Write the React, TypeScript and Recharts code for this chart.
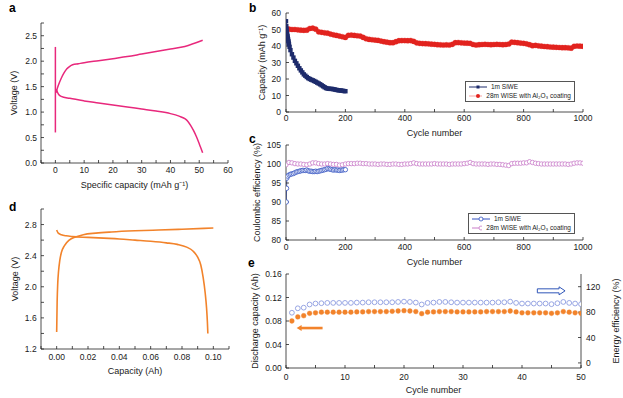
import React from 'react';
import { LineChart, Line, XAxis, YAxis, Legend, ReferenceLine } from 'recharts';

const FONT = '"Liberation Sans", Arial, Helvetica, sans-serif';
const INK = '#1a1a1a';
const AXIS = '#222';

const PINK = '#e8287c';
const NAVY = '#1d2b6b';
const RED = '#e2231e';
const RED_LINE = '#f6a3a2';
const BLUE_OPEN = '#3453c2';
const ORCHID = '#c97cc9';
const ORANGE = '#f2832b';
const PERIWINKLE = '#8d9ce0';

// ---- panel a: voltage profile, specific capacity
const aVertCap = [0, 0];
const aVertV = [0.6, 2.28];
const aChargeCap = [0.2, 1, 2, 3, 4, 5, 6, 8, 10, 15, 20, 25, 30, 35, 40, 45, 51.2];
const aChargeV = [1.38, 1.52, 1.66, 1.77, 1.85, 1.9, 1.93, 1.95, 1.97, 2.01, 2.05, 2.09, 2.14, 2.19, 2.24, 2.29, 2.41];
const aDischargeCap = [0.3, 1, 2, 5, 10, 15, 20, 25, 30, 35, 40, 43, 45, 46, 47, 48, 49, 50, 51.2];
const aDischargeV = [1.45, 1.36, 1.31, 1.27, 1.22, 1.18, 1.14, 1.1, 1.06, 1.02, 0.97, 0.92, 0.87, 0.82, 0.74, 0.64, 0.52, 0.38, 0.2];
const aXTicks = [0, 10, 20, 30, 40, 50, 60];
const aXMinor = [-5, 5, 15, 25, 35, 45, 55];
const aYTicks = [0, 0.5, 1, 1.5, 2, 2.5];
const aYMinor = [0.25, 0.75, 1.25, 1.75, 2.25, 2.75];

// ---- panel b: capacity vs cycle
const bSiweCycles = [0, 1, 2, 3, 4, 5, 6, 7, 8, 9, 10, 12, 15, 20, 25, 30, 35, 40, 45, 50, 55, 60, 65, 70, 75, 80, 85, 90, 95,
  100, 105, 110, 115, 120, 125, 130, 135, 140, 145, 150, 155, 160, 165, 170, 175, 180, 185, 190, 195, 200];
const bSiweCap = [55, 52, 50, 48.5, 47, 46, 45, 44, 43, 42, 41, 39.5, 37.5, 35, 33, 31, 29.5, 28, 26.5, 25.2, 24, 22.8, 22,
  21.2, 20.5, 20, 19.6, 19.2, 18.8, 18.3, 17.8, 17.3, 16.8, 16.2, 15.6, 15, 14.5, 14.2, 14.1, 14, 14, 13.8, 13.6, 13.4,
  13.2, 13.1, 13, 12.9, 12.7, 12.6];
const bWiseCap = [51, 50.2, 50, 50, 49.8, 49.6, 49.5, 49.6, 50.6, 50.8, 50.2, 48.6, 48.3, 48, 47.8, 47.2, 46.8, 46.4, 46, 45.6,
  45.2, 46.5, 46.6, 46.4, 46.2, 46, 45.2, 44.4, 44, 43.8, 43.6, 43.4, 43, 42.6, 42.3, 42, 42, 42.6, 43.2, 43.3,
  43.3, 43.2, 43.3, 42.8, 41.9, 41.6, 41.5, 41.4, 41.3, 41.1, 41, 40.8, 40.7, 40.6, 40.7, 40.6, 41, 42, 42.1, 41.9,
  41.8, 41.7, 41.6, 40.9, 40.6, 40.8, 40.9, 41, 40.9, 40.8, 40.9, 41, 40.9, 40.8, 40.9, 41.2, 42.3, 42.2, 42, 41.8,
  41.6, 41.3, 40.8, 40.2, 40.4, 40.1, 39.9, 39.7, 39.6, 39.4, 39.3, 39.2, 39.1, 39, 39, 38.9, 38.7, 39.8, 40, 39.9, 39.8];
const bXTicks = [0, 200, 400, 600, 800, 1000];
const bXMinor = [100, 300, 500, 700, 900];
const bYTicks = [0, 10, 20, 30, 40, 50, 60];

// ---- panel c: coulombic efficiency
const cSiweCycles = [1, 2, 3, 5, 10, 15, 20, 25, 30, 35, 40, 45, 50, 55, 60, 65, 70, 75, 80, 85, 90, 95, 100,
  105, 110, 115, 120, 125, 130, 135, 140, 145, 150, 155, 160, 165, 170, 175, 180, 185, 190, 195, 200];
const cSiweCE = [90, 93.6, 96.3, 96.8, 97.1, 97.3, 97.4, 97.5, 97.7, 97.9, 98, 98.1, 98.2, 98.3, 98.3, 98.3, 98.4, 98.2, 98.1, 98.1, 98,
  98, 98.1, 98, 98.1, 98.2, 98.3, 98.4, 98.5, 98.6, 98.8, 98.7, 98.6, 98.5, 98.4, 98.5, 98.4, 98.4, 98.3, 98.4, 98.4, 98.5, 98.5];
const cWiseCE = [99.8, 100.4, 100.3, 100.1, 100, 100, 99.9, 99.8, 100, 100.3, 100.3, 100.1, 100, 100, 100.1, 100, 99.9, 99.9, 99.7, 99.8,
  100, 100.1, 100.1, 100.1, 100.2, 100.2, 100.1, 100.1, 100, 100, 100, 99.9, 100, 100, 99.9, 99.9, 100, 100, 99.9, 99.9,
  100, 100, 100.1, 100.3, 100.1, 100, 100, 100, 100, 100, 100.1, 100, 100, 100, 100, 99.9, 100, 100, 100, 100,
  100.1, 100.2, 100.4, 100.1, 100, 100, 100, 100, 99.9, 100, 100, 99.9, 99.9, 99.8, 99.7, 99.6, 100.1, 100.2, 100.2, 100.2,
  100.3, 100.3, 100.6, 100.4, 100.2, 100.1, 100, 100, 100, 100, 100, 100, 100, 100, 100, 99.9, 100, 100.2, 100.3, 100.3, 100.2];
const cYTicks = [80, 85, 90, 95, 100, 105];

// ---- panel d: full cell voltage profile
const dChargeCap = [0, 0.0003, 0.0007, 0.0012, 0.002, 0.003, 0.005, 0.008, 0.012, 0.017, 0.025, 0.035, 0.05, 0.065, 0.08, 0.1];
const dChargeV = [1.42, 1.8, 2.05, 2.2, 2.34, 2.44, 2.53, 2.6, 2.64, 2.67, 2.69, 2.705, 2.72, 2.73, 2.74, 2.755];
const dDischargeCap = [0, 0.001, 0.003, 0.006, 0.01, 0.02, 0.03, 0.04, 0.05, 0.06, 0.07, 0.077, 0.083, 0.087, 0.09, 0.092,
  0.0935, 0.0948, 0.0957, 0.0962, 0.0965];
const dDischargeV = [2.73, 2.69, 2.67, 2.655, 2.645, 2.635, 2.625, 2.615, 2.6, 2.585, 2.565, 2.545, 2.51, 2.46, 2.38, 2.28,
  2.12, 1.92, 1.72, 1.55, 1.4];
const dXTicks = [0, 0.02, 0.04, 0.06, 0.08, 0.1];
const dXMinor = [-0.01, 0.01, 0.03, 0.05, 0.07, 0.09, 0.11];
const dYTicks = [1.2, 1.6, 2.0, 2.4, 2.8];
const dYMinor = [1.4, 1.8, 2.2, 2.6, 3.0];

// ---- panel e: discharge capacity + energy efficiency, cycles 1..50
const eCapacity = [0.08, 0.087, 0.089, 0.093, 0.094, 0.095, 0.095, 0.095, 0.095, 0.095, 0.095, 0.0955, 0.0955, 0.096, 0.096,
  0.096, 0.096, 0.0965, 0.097, 0.0975, 0.097, 0.096, 0.0925, 0.095, 0.0955, 0.096, 0.096, 0.096, 0.0955, 0.0955,
  0.0955, 0.0955, 0.0955, 0.096, 0.096, 0.096, 0.096, 0.097, 0.0955, 0.094, 0.094, 0.094, 0.094, 0.094, 0.093,
  0.094, 0.096, 0.095, 0.094, 0.093];
const eEfficiency = [79, 86, 87, 92, 93.5, 94, 94.5, 94.5, 94.5, 94.5, 94.5, 95, 95, 95.5, 95.5, 95.5, 95.5, 95.5, 96, 96.5,
  96, 95, 92, 94.5, 95, 96, 96, 95.5, 95, 95, 95, 95, 95, 95, 95, 95.5, 95.5, 96.5, 94.5, 93.5,
  93.5, 93.5, 93.5, 93.5, 92.5, 94, 96, 94.5, 93.5, 92.5];
const eXTicks = [0, 10, 20, 30, 40, 50];
const eXMinor = [5, 15, 25, 35, 45];
const eLeftTicks = [0, 0.04, 0.08, 0.12, 0.16];
const eRightTicks = [0, 40, 80, 120];

const pts = (xs: number[], ys: number[]) => xs.map((x, i) => ({ x, y: ys[i] }));
const withMinor = (major: number[], minor: number[]) => [...major, ...minor].sort((p, q) => p - q);
// label only the major ticks
const fmt = (major: number[], digits: number) => (v: number) =>
  major.some((m) => Math.abs(m - v) < 1e-9) ? v.toFixed(digits) : '';

const bSiwe = pts(bSiweCycles, bSiweCap);
const bWise = bWiseCap.map((y, i) => ({ x: i * 10, y }));
const cSiwe = pts(cSiweCycles, cSiweCE);
const cWise = cWiseCE.map((y, i) => ({ x: i * 10, y }));
const eData = eCapacity.map((cap, i) => ({ cycle: i + 1, cap, eff: eEfficiency[i] }));

const tickFont = { fontSize: 8.5, fill: INK, fontFamily: FONT };
const axLine = { stroke: AXIS, strokeWidth: 0.8 };
const labelStyle = { fontSize: 9, fill: INK, fontFamily: FONT, textAnchor: 'middle' as const };

// inward tick marks on top / right edges, no labels
function mirrorAxes(xDomain: number[], xTicks: number[], yDomain: number[], yTicks: number[], withRight = true) {
  const out = [
    <XAxis key="mt" xAxisId="top" orientation="top" type="number" domain={xDomain} ticks={xTicks} height={0}
      allowDataOverflow interval={0} tickSize={-3} tickFormatter={() => ''} axisLine={axLine} tickLine={axLine} />,
  ];
  if (withRight) {
    out.push(
      <YAxis key="mr" yAxisId="r" orientation="right" type="number" domain={yDomain} ticks={yTicks} width={0}
        allowDataOverflow interval={0} tickSize={-3} tickFormatter={() => ''} axisLine={axLine} tickLine={axLine} />
    );
  }
  return out;
}

type LegendRow = { name: string; line: string; marker: 'square' | 'dot' | 'ring'; color: string };

const bLegend: LegendRow[] = [
  { name: '1m SiWE', line: NAVY, marker: 'square', color: NAVY },
  { name: '28m WISE with Al₂O₃ coating', line: RED_LINE, marker: 'dot', color: RED },
];
const cLegend: LegendRow[] = [
  { name: '1m SiWE', line: BLUE_OPEN, marker: 'ring', color: BLUE_OPEN },
  { name: '28m WISE with Al₂O₃ coating', line: ORCHID, marker: 'ring', color: ORCHID },
];

function LegendBox({ rows }: { rows: LegendRow[] }) {
  return (
    <div style={{ border: '0.7px solid #555', background: '#fff', padding: '1px 3px', fontSize: 6.5,
      lineHeight: '8.5px', color: INK, fontFamily: FONT }}>
      {rows.map((r) => (
        <div key={r.name} style={{ display: 'flex', alignItems: 'center', whiteSpace: 'nowrap' }}>
          <svg width={18} height={6} style={{ marginRight: 4 }}>
            <line x1={0} y1={3} x2={18} y2={3} stroke={r.line} strokeWidth={1} />
            {r.marker === 'square' && <rect x={7.5} y={1.5} width={3} height={3} fill={r.color} />}
            {r.marker === 'dot' && <circle cx={9} cy={3} r={2} fill={r.color} />}
            {r.marker === 'ring' && <circle cx={9} cy={3} r={2} fill="#fff" stroke={r.color} strokeWidth={0.8} />}
          </svg>
          <span>{r.name}</span>
        </div>
      ))}
    </div>
  );
}

const squareDot = (color: string, s: number) => (p: any) => (
  <rect key={`sq-${p.index}`} x={p.cx - s / 2} y={p.cy - s / 2} width={s} height={s} fill={color} />
);

function PanelA() {
  const xt = withMinor(aXTicks, aXMinor);
  const yt = withMinor(aYTicks, aYMinor);
  return (
    <div style={{ position: 'absolute', left: 0, top: 0 }}>
      <LineChart width={240} height={200} margin={{ top: 23, right: 12, bottom: 0, left: 0 }}>
        <XAxis type="number" dataKey="x" domain={[-5, 60]} ticks={xt} height={37} interval={0} allowDataOverflow
          tickSize={-3} tickMargin={7.3} tick={tickFont} axisLine={axLine} tickLine={axLine}
          tickFormatter={fmt(aXTicks, 0)}
          label={{ value: 'Specific capacity (mAh g⁻¹)', position: 'insideBottom', offset: 12, style: labelStyle }} />
        <YAxis type="number" domain={[0, 2.75]} ticks={yt} width={41} interval={0} allowDataOverflow
          tickSize={-3} tickMargin={7} tick={tickFont} axisLine={axLine} tickLine={axLine}
          tickFormatter={fmt(aYTicks, 1)}
          label={{ value: 'Voltage (V)', angle: -90, position: 'insideLeft', offset: 13.5, style: labelStyle }} />
        {mirrorAxes([-5, 60], xt, [0, 2.75], yt)}
        <Line data={pts(aVertCap, aVertV)} dataKey="y" type="linear" stroke={PINK} strokeWidth={1.5} dot={false} isAnimationActive={false} />
        <Line data={pts(aChargeCap, aChargeV)} dataKey="y" type="monotone" stroke={PINK} strokeWidth={1.5} dot={false} isAnimationActive={false} />
        <Line data={pts(aDischargeCap, aDischargeV)} dataKey="y" type="monotone" stroke={PINK} strokeWidth={1.5} dot={false} isAnimationActive={false} />
      </LineChart>
    </div>
  );
}

function PanelB() {
  const xt = withMinor(bXTicks, bXMinor);
  return (
    <div style={{ position: 'absolute', left: 250, top: 0 }}>
      <LineChart width={373} height={140} margin={{ top: 13, right: 40, bottom: 0, left: 0 }}>
        <XAxis type="number" dataKey="x" domain={[0, 1000]} ticks={xt} height={28} interval={0} allowDataOverflow
          tickSize={-3} tickMargin={5.7} tick={tickFont} axisLine={axLine} tickLine={axLine}
          tickFormatter={fmt(bXTicks, 0)}
          label={{ value: 'Cycle number', position: 'insideBottom', offset: 4, style: labelStyle }} />
        <YAxis type="number" domain={[0, 60]} ticks={bYTicks} width={36} interval={0} allowDataOverflow
          tickSize={-3} tickMargin={8} tick={tickFont} axisLine={axLine} tickLine={axLine}
          label={{ value: 'Capacity (mAh g⁻¹)', angle: -90, position: 'insideLeft', offset: 11.7, style: labelStyle }} />
        {mirrorAxes([0, 1000], xt, [0, 60], bYTicks)}
        <Line data={bWise} dataKey="y" name="28m WISE with Al₂O₃ coating" stroke={RED_LINE} strokeWidth={1}
          dot={{ r: 2.6, fill: RED, stroke: RED, strokeWidth: 0.3 }} isAnimationActive={false} />
        <Line data={bSiwe} dataKey="y" name="1m SiWE" stroke={NAVY} strokeWidth={1.2}
          dot={squareDot(NAVY, 4.4)} isAnimationActive={false} />
        <Legend layout="vertical" align="center" verticalAlign="middle"
          wrapperStyle={{ left: 215, top: 81, width: 110 }} content={() => <LegendBox rows={bLegend} />} />
      </LineChart>
    </div>
  );
}

function PanelC() {
  const xt = withMinor(bXTicks, bXMinor);
  return (
    <div style={{ position: 'absolute', left: 250, top: 140 }}>
      <LineChart width={373} height={128} margin={{ top: 5, right: 40, bottom: 0, left: 0 }}>
        <XAxis type="number" dataKey="x" domain={[0, 1000]} ticks={xt} height={28} interval={0} allowDataOverflow
          tickSize={-3} tickMargin={7.3} tick={tickFont} axisLine={axLine} tickLine={axLine}
          tickFormatter={fmt(bXTicks, 0)}
          label={{ value: 'Cycle number', position: 'insideBottom', offset: 3, style: labelStyle }} />
        <YAxis type="number" domain={[80, 105]} ticks={cYTicks} width={36} interval={0} allowDataOverflow
          tickSize={-3} tickMargin={8} tick={tickFont} axisLine={axLine} tickLine={axLine}
          label={{ value: 'Coulombic efficiency (%)', angle: -90, position: 'insideLeft', offset: 6.7, style: labelStyle }} />
        {mirrorAxes([0, 1000], xt, [80, 105], cYTicks)}
        <Line data={cWise} dataKey="y" name="28m WISE with Al₂O₃ coating" stroke={ORCHID} strokeWidth={0.8}
          dot={{ r: 2.2, fill: '#fff', stroke: ORCHID, strokeWidth: 0.8 }} isAnimationActive={false} />
        <Line data={cSiwe} dataKey="y" name="1m SiWE" stroke={BLUE_OPEN} strokeWidth={0.8}
          dot={{ r: 2.2, fill: '#fff', stroke: BLUE_OPEN, strokeWidth: 0.8 }} isAnimationActive={false} />
        <Legend layout="vertical" align="center" verticalAlign="middle"
          wrapperStyle={{ left: 218, top: 73, width: 107 }} content={() => <LegendBox rows={cLegend} />} />
      </LineChart>
    </div>
  );
}

function PanelD() {
  const xt = withMinor(dXTicks, dXMinor);
  const yt = withMinor(dYTicks, dYMinor);
  return (
    <div style={{ position: 'absolute', left: 0, top: 200 }}>
      <LineChart width={240} height={198} margin={{ top: 9, right: 11, bottom: 0, left: 0 }}>
        <XAxis type="number" dataKey="x" domain={[-0.01, 0.11]} ticks={xt} height={49} interval={0} allowDataOverflow
          tickSize={-3} tickMargin={8} tick={tickFont} axisLine={axLine} tickLine={axLine}
          tickFormatter={fmt(dXTicks, 2)}
          label={{ value: 'Capacity (Ah)', position: 'insideBottom', offset: 24.5, style: labelStyle }} />
        <YAxis type="number" domain={[1.2, 3.0]} ticks={yt} width={41} interval={0} allowDataOverflow
          tickSize={-3} tickMargin={7.3} tick={tickFont} axisLine={axLine} tickLine={axLine}
          tickFormatter={fmt(dYTicks, 1)}
          label={{ value: 'Voltage (V)', angle: -90, position: 'insideLeft', offset: 15, style: labelStyle }} />
        {mirrorAxes([-0.01, 0.11], xt, [1.2, 3.0], yt)}
        <Line data={pts(dChargeCap, dChargeV)} dataKey="y" type="monotone" stroke={ORANGE} strokeWidth={1.6} dot={false} isAnimationActive={false} />
        <Line data={pts(dDischargeCap, dDischargeV)} dataKey="y" type="monotone" stroke={ORANGE} strokeWidth={1.6} dot={false} isAnimationActive={false} />
      </LineChart>
    </div>
  );
}

const hollowArrow = (p: any) => {
  const { x1, y1, x2 } = p;
  const hx = x2 - 6;
  const d = `M${x1},${y1 - 2} L${hx},${y1 - 2} L${hx},${y1 - 4} L${x2},${y1} L${hx},${y1 + 4} L${hx},${y1 + 2} L${x1},${y1 + 2} Z`;
  return <path d={d} fill="#fff" stroke="#2f56b8" strokeWidth={1} />;
};

const solidArrowLeft = (p: any) => {
  const { x1, y1, x2 } = p;
  const d = `M${x2},${y1} L${x2 + 5},${y1 - 3} L${x2 + 5},${y1 + 3} Z`;
  return (
    <g>
      <line x1={x1} y1={y1} x2={x2 + 4} y2={y1} stroke={ORANGE} strokeWidth={2.6} />
      <path d={d} fill={ORANGE} />
    </g>
  );
};

function PanelE() {
  const xt = withMinor(eXTicks, eXMinor);
  return (
    <div style={{ position: 'absolute', left: 250, top: 268 }}>
      <LineChart width={373} height={130} data={eData} margin={{ top: 6, right: 0, bottom: 0, left: 0 }}>
        <XAxis type="number" dataKey="cycle" domain={[0, 50]} ticks={xt} height={30} interval={0} allowDataOverflow
          tickSize={-3} tickMargin={9.3} tick={tickFont} axisLine={axLine} tickLine={axLine}
          tickFormatter={fmt(eXTicks, 0)}
          label={{ value: 'Cycle number', position: 'insideBottom', offset: 5.5, style: labelStyle }} />
        <YAxis yAxisId="left" type="number" domain={[0, 0.16]} ticks={eLeftTicks} width={36} interval={0} allowDataOverflow
          tickSize={-3} tickMargin={7.3} tick={tickFont} axisLine={axLine} tickLine={axLine}
          tickFormatter={(v: number) => v.toFixed(2)}
          label={{ value: 'Discharge capacity (Ah)', angle: -90, position: 'insideLeft', offset: 5, style: labelStyle }} />
        <YAxis yAxisId="right" orientation="right" type="number" domain={[-8, 140]} ticks={eRightTicks} width={42} interval={0}
          allowDataOverflow tickSize={-3} tickMargin={8} tick={tickFont} axisLine={axLine} tickLine={axLine}
          label={{ value: 'Energy efficiency (%)', angle: -90, position: 'insideRight', offset: 7, style: labelStyle }} />
        {mirrorAxes([0, 50], xt, [0, 0.16], eLeftTicks, false)}
        <Line yAxisId="right" dataKey="eff" stroke="none" dot={{ r: 2.4, fill: '#fff', stroke: PERIWINKLE, strokeWidth: 0.9 }}
          isAnimationActive={false} />
        <Line yAxisId="left" dataKey="cap" stroke="none" dot={{ r: 2.4, fill: ORANGE, stroke: ORANGE, strokeWidth: 0.4 }}
          isAnimationActive={false} />
        <ReferenceLine yAxisId="right" segment={[{ x: 42.6, y: 113.5 }, { x: 47.3, y: 113.5 }]} shape={hollowArrow} />
        <ReferenceLine yAxisId="left" segment={[{ x: 6.2, y: 0.068 }, { x: 1.8, y: 0.068 }]} shape={solidArrowLeft} />
      </LineChart>
    </div>
  );
}

const letter = (ch: string, left: number, top: number) => (
  <div key={ch} style={{ position: 'absolute', left, top, fontSize: 12, lineHeight: '12px', fontWeight: 700, color: '#000' }}>
    {ch}
  </div>
);

export default function App() {
  return (
    <div style={{ position: 'absolute', left: 0, top: 0, width: 623, height: 398, background: '#fff',
      fontFamily: FONT, overflow: 'hidden' }}>
      <PanelA />
      <PanelB />
      <PanelC />
      <PanelD />
      <PanelE />
      {letter('a', 9, 2)}
      {letter('b', 249, 2)}
      {letter('c', 249, 133)}
      {letter('d', 9, 201)}
      {letter('e', 248, 257)}
    </div>
  );
}
